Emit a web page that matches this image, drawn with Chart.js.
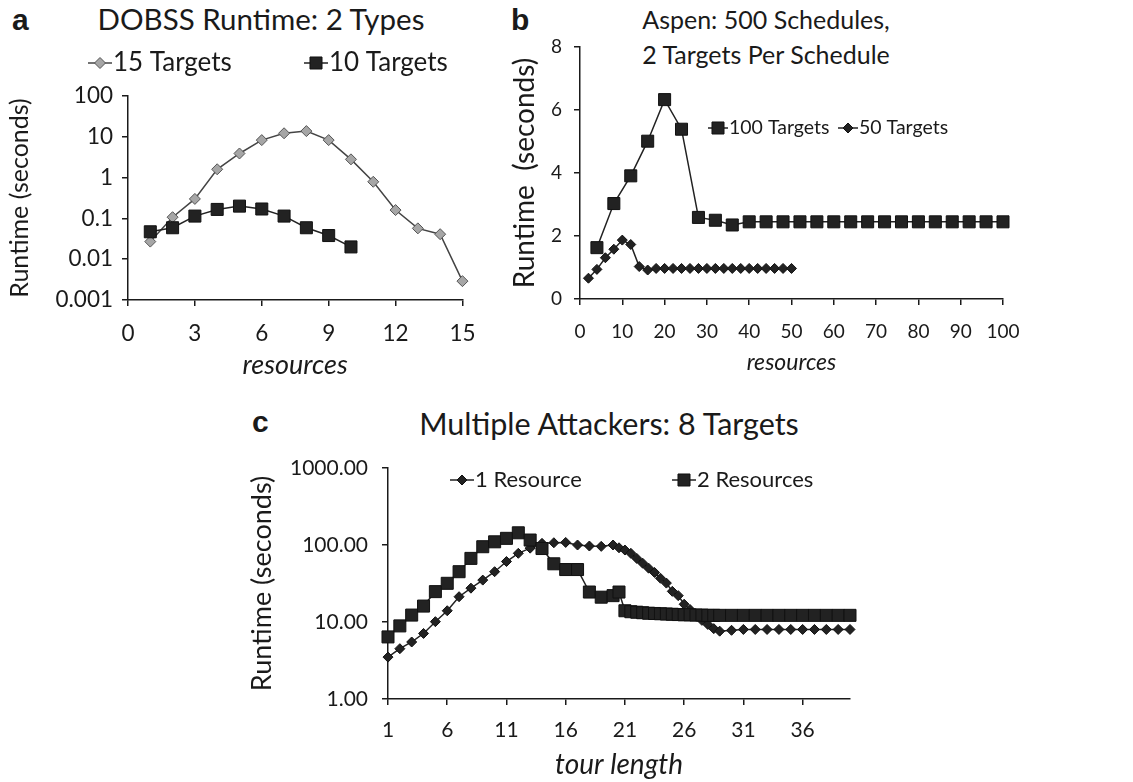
<!DOCTYPE html>
<html>
<head>
<meta charset="utf-8">
<script src="https://cdn.jsdelivr.net/npm/chart.js@4.4.1/dist/chart.umd.min.js"></script>
<style>
  body { margin: 0; background: #fff; width: 1133px; height: 782px; position: relative; overflow: hidden; font-family: Lato, sans-serif; color: #1a1a1a; }
  canvas { position: absolute; }
  .letter { position: absolute; font-family: "Liberation Sans", Arial, sans-serif; font-weight: bold; font-size: 30px; line-height: 30px; }
  .title { position: absolute; line-height: 35px; text-align: center; white-space: nowrap; transform: translateX(-50%); }
</style>
</head>
<body>
<div class="letter" style="left:12px; top:5px;">a</div>
<div class="letter" style="left:511px; top:5px;">b</div>
<div class="letter" style="left:252px; top:407px;">c</div>
<div class="title" style="left:261px; top:1px; font-size:29.5px;">DOBSS Runtime: 2 Types</div>
<div class="title" style="left:766px; top:2px; font-size:25px;">Aspen: 500 Schedules,<br>2 Targets Per Schedule</div>
<div class="title" style="left:609px; top:406px; font-size:30.5px;">Multiple Attackers: 8 Targets</div>

<canvas id="chart-a" width="490" height="390" style="left:0; top:0;"></canvas>
<canvas id="chart-b" width="643" height="390" style="left:490px; top:0;"></canvas>
<canvas id="chart-c" width="650" height="382" style="left:230px; top:400px;"></canvas>

<script>
// a: DOBSS runtime, log scale
const aResources15 = [1, 2, 3, 4, 5, 6, 7, 8, 9, 10, 11, 12, 13, 14, 15];
const aRuntime15 = [0.027, 0.107, 0.30, 1.6, 3.9, 8.3, 12.2, 13.8, 8.3, 2.8, 0.79, 0.16, 0.057, 0.041, 0.0029];
const aResources10 = [1, 2, 3, 4, 5, 6, 7, 8, 9, 10];
const aRuntime10 = [0.047, 0.059, 0.114, 0.166, 0.20, 0.17, 0.114, 0.059, 0.038, 0.020];
const aYTicks = [0.001, 0.01, 0.1, 1, 10, 100];

// b: Aspen
const bResources100 = [4, 8, 12, 16, 20, 24, 28, 32, 36, 40, 44, 48, 52, 56, 60, 64, 68, 72, 76, 80, 84, 88, 92, 96, 100];
const bRuntime100 = [1.63, 3.03, 3.91, 5.01, 6.33, 5.39, 2.59, 2.50, 2.35, 2.45, 2.45, 2.45, 2.45, 2.45, 2.45, 2.45, 2.45, 2.45, 2.45, 2.45, 2.45, 2.45, 2.45, 2.45, 2.45];
const bResources50 = [2, 4, 6, 8, 10, 12, 14, 16, 18, 20, 22, 24, 26, 28, 30, 32, 34, 36, 38, 40, 42, 44, 46, 48, 50];
const bRuntime50 = [0.66, 0.94, 1.31, 1.58, 1.87, 1.73, 1.03, 0.92, 0.97, 0.97, 0.97, 0.97, 0.97, 0.97, 0.97, 0.97, 0.97, 0.97, 0.97, 0.97, 0.97, 0.97, 0.97, 0.97, 0.97];

// c: multiple attackers, log scale
const cTour1 = [1, 2, 3, 4, 5, 6, 7, 8, 9, 10, 11, 12, 13, 14, 15, 16, 17, 18, 19, 20,
  20.5, 21, 21.5, 22, 22.5, 23, 23.5, 24, 24.5, 25, 25.5, 26, 26.5, 27, 27.5, 28, 28.5, 29,
  30, 31, 32, 33, 34, 35, 36, 37, 38, 39, 40];
const cRuntime1 = [3.5, 4.5, 5.5, 7.1, 10.1, 14, 21.3, 27.5, 35, 45, 61, 78, 91, 105, 107, 108, 100, 97, 96, 100,
  92, 86, 78, 67, 58, 50, 44, 37, 32, 25, 22, 17, 14.5, 12, 10.5, 9.3, 8.2, 7.6,
  7.8, 8, 8, 8, 8, 8, 8, 8, 8, 8, 8];
const cTour2 = [1, 2, 3, 4, 5, 6, 7, 8, 9, 10, 11, 12, 13, 14, 15, 16, 17, 18, 19, 20,
  20.5, 21, 21.5, 22, 22.5, 23, 23.5, 24, 24.5, 25, 25.5, 26, 26.5, 27, 27.5, 28, 28.5, 29,
  30, 31, 32, 33, 34, 35, 36, 37, 38, 39, 40];
const cRuntime2 = [6.4, 8.9, 12.3, 16.1, 24.8, 31.8, 45, 67, 95, 110, 122, 144, 116, 90, 57, 48, 48, 24.5, 21, 22,
  24.5, 14, 13.6, 13.4, 13.2, 13, 12.9, 12.8, 12.7, 12.6, 12.5, 12.4, 12.4, 12.3, 12.3, 12.2, 12.2, 12.2,
  12.2, 12.2, 12.2, 12.2, 12.2, 12.2, 12.2, 12.2, 12.2, 12.2, 12.2];
const cXTicks = [1, 6, 11, 16, 21, 26, 31, 36];
const cYTicks = [1, 10, 100, 1000];

const ink = "#1a1a1a";
Chart.defaults.font.family = "Lato, sans-serif";
Chart.defaults.color = ink;

const points = (xs, ys) => xs.map((x, i) => ({ x, y: ys[i] }));

const blackSquare = { pointStyle: "rect", pointRadius: 8.5, pointBackgroundColor: "#222", pointBorderColor: "#111", pointBorderWidth: 1, borderColor: "#222", borderWidth: 1.5 };
const blackDiamond = { pointStyle: "rectRot", pointRadius: 5, pointBackgroundColor: "#222", pointBorderColor: "#111", pointBorderWidth: 1, borderColor: "#222", borderWidth: 1.5 };
const grayDiamond = { pointStyle: "rectRot", pointRadius: 5.5, pointBackgroundColor: "#a6a6a6", pointBorderColor: "#555", pointBorderWidth: 1, borderColor: "#444", borderWidth: 1.5 };

// legend drawn inside the canvas at fixed spots, like the original
const markerLegend = {
  id: "markerLegend",
  afterDraw(chart, args, opts) {
    const ctx = chart.ctx;
    ctx.save();
    opts.items.forEach((item) => {
      const ds = chart.data.datasets[item.dataset];
      const len = opts.lineLength;
      ctx.strokeStyle = ds.borderColor;
      ctx.lineWidth = ds.borderWidth;
      ctx.beginPath();
      ctx.moveTo(item.x, item.y);
      ctx.lineTo(item.x + len, item.y);
      ctx.stroke();
      const cx = item.x + len / 2, r = ds.pointRadius;
      ctx.fillStyle = ds.pointBackgroundColor;
      ctx.strokeStyle = ds.pointBorderColor;
      ctx.lineWidth = ds.pointBorderWidth;
      ctx.beginPath();
      if (ds.pointStyle === "rect") {
        const h = r * Math.SQRT1_2;
        ctx.rect(cx - h, item.y - h, 2 * h, 2 * h);
      } else {
        ctx.moveTo(cx - r, item.y); ctx.lineTo(cx, item.y - r); ctx.lineTo(cx + r, item.y); ctx.lineTo(cx, item.y + r); ctx.closePath();
      }
      ctx.fill();
      ctx.stroke();
      ctx.fillStyle = ink;
      ctx.font = opts.fontSize + "px Lato, sans-serif";
      ctx.textBaseline = "middle";
      ctx.textAlign = "left";
      ctx.fillText(ds.label, item.x + len + 1, item.y);
    });
    ctx.restore();
  },
};

const grid = { drawOnChartArea: false, drawTicks: true, tickLength: 6, color: ink, lineWidth: 1.5 };
const border = { display: true, color: ink, width: 1.5 };
const axisTitle = (text, size, italic) => ({ display: true, text, padding: 0, font: { size, style: italic ? "italic" : "normal", lineHeight: 1.2 } });

// Panel a
new Chart(document.getElementById("chart-a"), {
  type: "line",
  data: {
    datasets: [
      { label: "15 Targets", data: points(aResources15, aRuntime15), order: 1, ...grayDiamond },
      { label: "10 Targets", data: points(aResources10, aRuntime10), order: 0, ...blackSquare },
    ],
  },
  options: {
    responsive: false, animation: false,
    layout: { padding: { left: 5, top: 96, right: 23, bottom: 9 } },
    elements: { line: { tension: 0 } },
    datasets: { line: { clip: false } },
    plugins: {
      legend: { display: false }, tooltip: { enabled: false },
      markerLegend: { lineLength: 24, fontSize: 26, items: [{ dataset: 0, x: 88, y: 63 }, { dataset: 1, x: 304, y: 63 }] },
    },
    scales: {
      x: {
        type: "linear", min: 0, max: 15,
        ticks: { stepSize: 3, font: { size: 22.5 }, padding: 14.5, maxRotation: 0 },
        grid, border, title: axisTitle("resources", 27, true),
        afterFit: (s) => { s.height = 81; },
      },
      y: {
        type: "logarithmic", min: 0.001, max: 100,
        afterBuildTicks: (s) => { s.ticks = aYTicks.map((v) => ({ value: v })); },
        ticks: { font: { size: 22.5 }, padding: 9, autoSkip: false, callback: (v) => String(Number(v.toPrecision(1))) },
        grid, border, title: axisTitle("Runtime (seconds)", 25),
        afterFit: (s) => { s.width = 123; },
      },
    },
  },
  plugins: [markerLegend],
});

// Panel b
new Chart(document.getElementById("chart-b"), {
  type: "line",
  data: {
    datasets: [
      { label: "100 Targets", data: points(bResources100, bRuntime100), ...blackSquare },
      { label: "50 Targets", data: points(bResources50, bRuntime50), ...blackDiamond },
    ],
  },
  options: {
    responsive: false, animation: false,
    layout: { padding: { left: 18, top: 47, right: 130, bottom: 14 } },
    elements: { line: { tension: 0 } },
    datasets: { line: { clip: false } },
    plugins: {
      legend: { display: false }, tooltip: { enabled: false },
      markerLegend: { lineLength: 20, fontSize: 19.5, items: [{ dataset: 0, x: 218, y: 128 }, { dataset: 1, x: 348, y: 128 }] },
    },
    scales: {
      x: {
        type: "linear", min: 0, max: 100,
        ticks: { stepSize: 10, font: { size: 19 }, padding: 15.5, maxRotation: 0 },
        grid, border, title: axisTitle("resources", 23, true),
        afterFit: (s) => { s.height = 77; },
      },
      y: {
        type: "linear", min: 0, max: 8,
        ticks: { stepSize: 2, font: { size: 19 }, padding: 12 },
        grid, border, title: axisTitle("Runtime  (seconds)", 28),
        afterFit: (s) => { s.width = 72; },
      },
    },
  },
  plugins: [markerLegend],
});

// Panel c
new Chart(document.getElementById("chart-c"), {
  type: "line",
  data: {
    datasets: [
      { label: "1 Resource", data: points(cTour1, cRuntime1), order: 1, ...blackDiamond },
      { label: "2 Resources", data: points(cTour2, cRuntime2), order: 0, ...blackSquare },
    ],
  },
  options: {
    responsive: false, animation: false,
    layout: { padding: { left: 16, top: 68, right: 30, bottom: 0 } },
    elements: { line: { tension: 0 } },
    datasets: { line: { clip: false } },
    plugins: {
      legend: { display: false }, tooltip: { enabled: false },
      markerLegend: { lineLength: 24, fontSize: 22, items: [{ dataset: 0, x: 220, y: 80 }, { dataset: 1, x: 442, y: 80 }] },
    },
    scales: {
      x: {
        type: "linear", min: 1, max: 40,
        afterBuildTicks: (s) => { s.ticks = cXTicks.map((v) => ({ value: v })); },
        ticks: { font: { size: 21 }, padding: 12.4, maxRotation: 0, autoSkip: false },
        grid, border, title: axisTitle("tour length", 28, true),
        afterFit: (s) => { s.height = 83; },
      },
      y: {
        type: "logarithmic", min: 1, max: 1000,
        afterBuildTicks: (s) => { s.ticks = cYTicks.map((v) => ({ value: v })); },
        ticks: { font: { size: 21 }, padding: 14, autoSkip: false, callback: (v) => Number(v).toFixed(2) },
        grid, border, title: axisTitle("Runtime (seconds)", 27),
        afterFit: (s) => { s.width = 142; },
      },
    },
  },
  plugins: [markerLegend],
});
</script>
</body>
</html>
